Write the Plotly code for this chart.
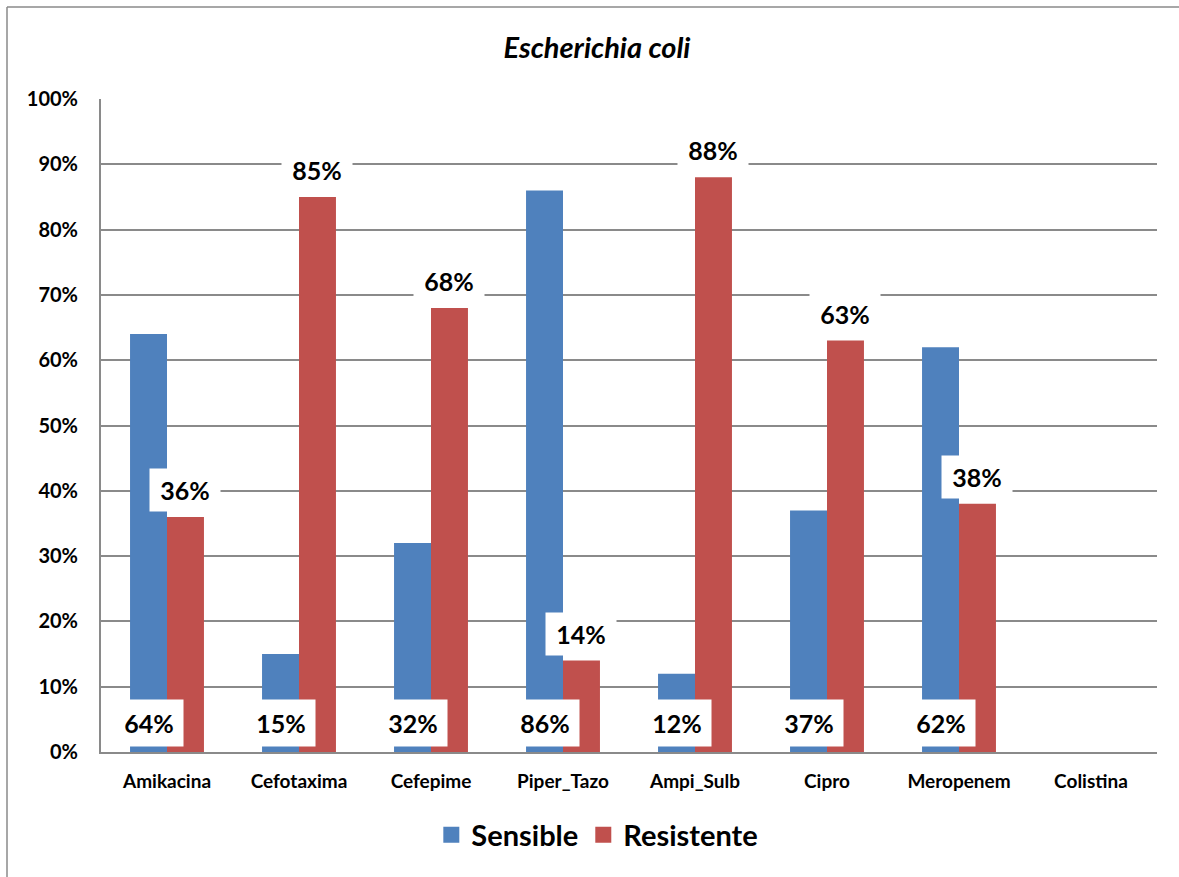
import plotly.graph_objects as go

# Antibiotic susceptibility of Escherichia coli (% of isolates)
antibiotics = ["Amikacina", "Cefotaxima", "Cefepime", "Piper_Tazo",
               "Ampi_Sulb", "Cipro", "Meropenem", "Colistina"]
sensible = [64, 15, 32, 86, 12, 37, 62, None]
resistente = [36, 85, 68, 14, 88, 63, 38, None]
y_ticks = list(range(0, 101, 10))
y_tick_text = [f"{v}%" for v in y_ticks]

BLUE = "#4F81BD"
RED = "#C0504D"
GRID = "#8A8A8A"
FONT = "Lato"

BARGAP = 0.44
half = (1 - BARGAP) / 4  # offset of each bar's centre from its category centre

fig = go.Figure()
x_idx = list(range(len(antibiotics)))

fig.add_trace(go.Bar(x=x_idx, y=sensible, name="Sensible",
                     marker=dict(color=BLUE, line=dict(width=0)),
                     showlegend=False))
fig.add_trace(go.Bar(x=x_idx, y=resistente, name="Resistente",
                     marker=dict(color=RED, line=dict(width=0)),
                     showlegend=False))

# larger square legend keys
for name, col in [("Sensible", BLUE), ("Resistente", RED)]:
    fig.add_trace(go.Scatter(x=[None], y=[None], mode="markers", name=name,
                             marker=dict(symbol="square", size=18, color=col)))

annotations = []
for i, (s, r) in enumerate(zip(sensible, resistente)):
    if s is not None:
        annotations.append(dict(
            x=i - half, y=0, xref="x", yref="y", text=f"{s}%",
            showarrow=False, yanchor="middle", yshift=29,
            bgcolor="white", width=66, height=44,
            font=dict(family=FONT, size=25, color="black", weight="bold")))
    if r is not None:
        annotations.append(dict(
            x=i + half, y=r, xref="x", yref="y", text=f"{r}%",
            showarrow=False, yanchor="middle", yshift=27,
            bgcolor="white", width=68, height=40,
            font=dict(family=FONT, size=25, color="black", weight="bold")))

# chart frame: top and left edges (the others fall outside the page)
frame_left = -94 / 1056
frame_top = 1 + 92 / 653
frame = [
    dict(type="line", xref="paper", yref="paper",
         x0=frame_left, x1=1.1, y0=frame_top, y1=frame_top,
         line=dict(color=GRID, width=1.5), layer="below"),
    dict(type="line", xref="paper", yref="paper",
         x0=frame_left, x1=frame_left, y0=-0.25, y1=frame_top,
         line=dict(color=GRID, width=1.5), layer="below"),
]

fig.update_layout(
    width=1179, height=877,
    margin=dict(l=101, r=22, t=99, b=125),
    paper_bgcolor="white", plot_bgcolor="white",
    barmode="group", bargap=BARGAP, bargroupgap=0,
    font=dict(family=FONT, color="black"),
    title=dict(text="<i>Escherichia coli</i>", x=597 / 1179, xanchor="center",
               xref="container", y=1 - 48 / 877, yanchor="middle",
               font=dict(family=FONT, size=29, color="black", weight="bold")),
    legend=dict(orientation="h", x=0.47, xanchor="center",
                y=-(835 - 752) / 653, yanchor="middle",
                font=dict(family=FONT, size=29, color="black", weight="bold"),
                itemwidth=30, bgcolor="rgba(0,0,0,0)"),
    annotations=annotations,
    shapes=frame,
)

fig.update_xaxes(
    tickmode="array", tickvals=x_idx, ticktext=antibiotics,
    range=[-0.5, len(antibiotics) - 0.5],
    showgrid=False, showline=True, linecolor=GRID, linewidth=2,
    ticks="", ticklabelstandoff=11,
    tickfont=dict(family=FONT, size=19, color="black", weight="bold"),
)
fig.update_yaxes(
    range=[0, 100], tickmode="array", tickvals=y_ticks, ticktext=y_tick_text,
    showgrid=True, gridcolor=GRID, gridwidth=1.5,
    showline=True, linecolor=GRID, linewidth=2,
    zeroline=False, ticks="", ticklabelstandoff=17,
    tickfont=dict(family=FONT, size=20, color="black", weight="bold"),
)

fig.write_html("out.html")
